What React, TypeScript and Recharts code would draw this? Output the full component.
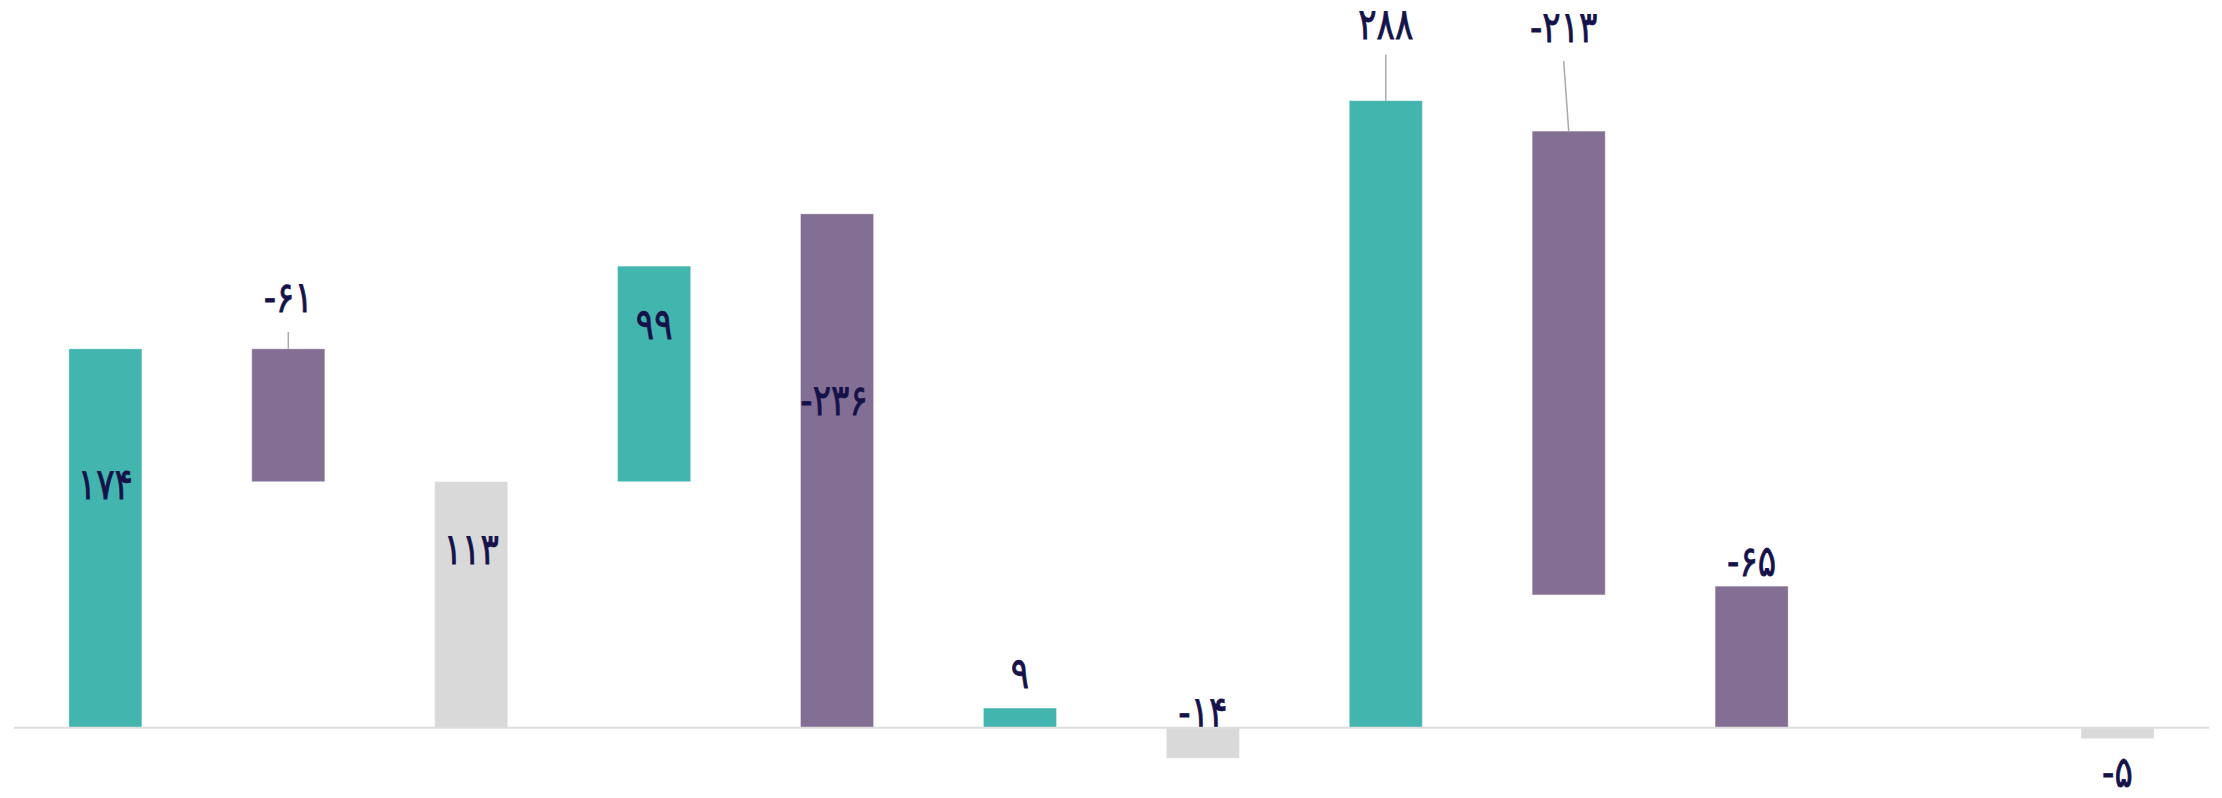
import { BarChart, Bar, XAxis, YAxis, ReferenceLine } from "recharts";

// waterfall steps; the 11th slot is left empty in the source
const steps = ["s1", "s2", "s3", "s4", "s5", "s6", "s7", "s8", "s9", "s10", "s11", "s12"];
const lows = [0, 113, 0, 113, 0, 0, -14, 0, 61, 0, null, -5];
const highs = [174, 174, 113, 212, 236, 9, 0, 288, 274, 65, null, 0];
const changes = [174, -61, 113, 99, -236, 9, -14, 288, -213, -65, null, -5];
const kinds = ["up", "down", "total", "up", "down", "up", "total", "up", "down", "down", null, "total"];

const colors: Record<string, string> = {
  up: "#43B5AF",
  down: "#846F94",
  total: "#D9D9D9",
};

// label placement, offset from the bar's top edge
const labelDy = [135, -52, 67, 58, 186, -35, -16, -77, -104, -25, 0, 44];
const labelDx = [0, 0, 0, 0, -3, 0, 0, 0, -5, 0, 0, 0];
const leaderLen = [0, 17, 0, 0, 0, 0, 0, 46, 70, 0, 0, 0];

const data = steps.map((name, i) => ({
  name,
  i,
  range: lows[i] == null ? null : [lows[i], highs[i]],
}));

const toFa = (n: number) => String(n).replace(/\d/g, (d) => "۰۱۲۳۴۵۶۷۸۹"[+d]);

const W = 2222;
const H = 798;

function StepBar(props: any) {
  const { x, y, width, height, payload } = props;
  const index = payload?.i;
  if (index == null || changes[index] == null || kinds[index] == null) return <g />;
  const top = Math.min(y, y + height);
  const h = Math.abs(height);
  const cx = x + width / 2;
  const tx = cx + labelDx[index];
  const ty = top + labelDy[index];
  const lead = leaderLen[index];
  return (
    <g>
      <rect
        x={x}
        y={top}
        width={width}
        height={h}
        fill={colors[kinds[index] as string]}
        stroke="#ffffff"
        strokeOpacity={0.3}
        strokeWidth={1}
      />
      {lead > 0 && (
        <line x1={tx} y1={top - lead} x2={cx} y2={top} stroke="#aaaaaa" strokeWidth={1.5} />
      )}
      <text
        x={0}
        y={0}
        transform={`translate(${tx},${ty}) scale(0.95,1.2)`}
        textAnchor="middle"
        dominantBaseline="central"
        fontFamily="'DejaVu Sans', sans-serif"
        fontSize={36}
        fill="#15124A"
        stroke="#15124A"
        strokeWidth={0.7}
      >
        {toFa(changes[index] as number)}
      </text>
    </g>
  );
}

export default function App() {
  return (
    <div style={{ width: W, height: H }}>
      <style>{`body{margin:0;background:#fff}`}</style>
      <BarChart
        width={W}
        height={H}
        data={data}
        margin={{ top: 31, right: 13, bottom: 5, left: 14 }}
        barCategoryGap="30%"
      >
        <XAxis dataKey="name" hide />
        <YAxis hide domain={[-30, 320]} />
        <ReferenceLine y={0} stroke="#dedede" strokeWidth={2} />
        <Bar dataKey="range" shape={StepBar} isAnimationActive={false} />
      </BarChart>
    </div>
  );
}
